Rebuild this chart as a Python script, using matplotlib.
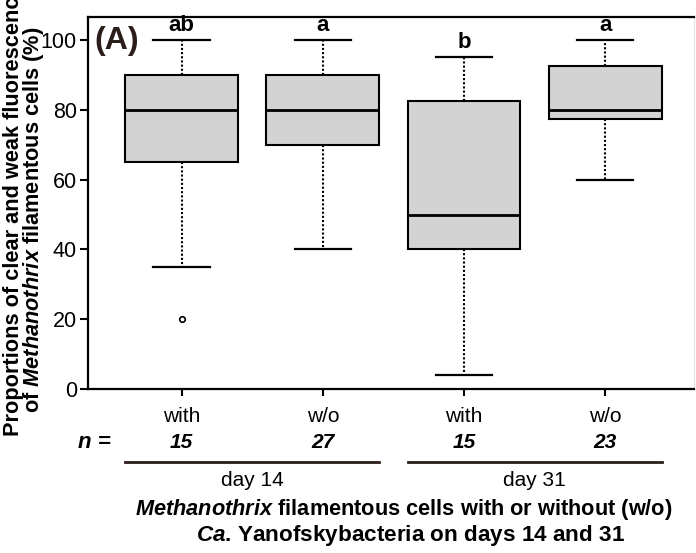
import matplotlib
matplotlib.use("Agg")
import matplotlib.pyplot as plt
from matplotlib.transforms import blended_transform_factory
from matplotlib.lines import Line2D

plt.rcParams['font.family'] = ['Liberation Sans', 'DejaVu Sans']
plt.rcParams['mathtext.fontset'] = 'custom'
plt.rcParams['mathtext.it'] = 'Liberation Sans:italic:bold'
plt.rcParams['mathtext.rm'] = 'Liberation Sans:bold'
plt.rcParams['mathtext.bf'] = 'Liberation Sans:bold'

# ---- data ----
groups = ["with", "w/o", "with", "w/o"]
days = ["day 14", "day 31"]
n_values = ["15", "27", "15", "23"]
letters = ["ab", "a", "b", "a"]
whis_low = [35, 40, 4, 60]
q1 = [65, 70, 40, 77.5]
medians = [80, 80, 50, 80]
q3 = [90, 90, 82.5, 92.5]
whis_high = [100, 100, 95, 100]
outliers = [[20], [], [], []]

W, H = 696, 553
fig = plt.figure(figsize=(W / 100, H / 100), dpi=100)
ax = fig.add_axes([88 / W, (H - 389) / H, (694 - 88) / W, (389 - 17) / H])

stats = []
for i in range(4):
    stats.append(dict(med=medians[i], q1=q1[i], q3=q3[i],
                      whislo=whis_low[i], whishi=whis_high[i],
                      fliers=outliers[i]))
positions = [1, 2, 3, 4]
ax.bxp(stats, positions=positions, widths=0.8, capwidths=0.4,
       patch_artist=True, showfliers=True,
       boxprops=dict(facecolor='#d3d3d3', edgecolor='black', linewidth=1.5),
       medianprops=dict(color='black', linewidth=2),
       whiskerprops=dict(color='black', linewidth=1.5, linestyle=(0, (1.0, 1.0))),
       capprops=dict(color='black', linewidth=1.6),
       flierprops=dict(marker='o', markersize=4, markerfacecolor='white',
                       markeredgecolor='black', markeredgewidth=1.2))

ax.set_xlim(0.336, 4.63)
ax.set_ylim(0, 106.6)
ax.set_yticks([0, 20, 40, 60, 80, 100])
ax.tick_params(axis='y', labelsize=15.5, length=6, width=1.5, pad=2)
ax.set_xticks(positions)
ax.set_xticklabels(groups)
ax.tick_params(axis='x', labelsize=15, length=5, width=1.5, pad=8)
for s in ['left', 'bottom', 'top']:
    ax.spines[s].set_linewidth(1.6)
ax.spines['right'].set_color('#e6e6e6')
ax.spines['right'].set_linewidth(1)

# significance letters
for x, t, yh in zip(positions, letters, whis_high):
    ax.text(x, yh + 1.2, t, ha='center', va='bottom', fontsize=16,
            fontweight='bold')

ax.text(0.01, 0.935, "(A)", transform=ax.transAxes, fontsize=23,
        fontweight='bold', color='#2b1d1a', ha='left', va='center')

# n row
tr = blended_transform_factory(ax.transData, fig.transFigure)
for x, n in zip(positions, n_values):
    ax.text(x, (H - 443) / H, n, transform=tr, ha='center', va='center',
            fontsize=15, fontweight='bold', fontstyle='italic')
fig.text(94 / W, (H - 443) / H, "n =", ha='center', va='center',
         fontsize=16, fontweight='bold', fontstyle='italic')

# day brackets
for (x0, x1), d in zip([(0.6, 2.4), (2.6, 4.4)], days):
    ax.add_line(Line2D([x0, x1], [(H - 462) / H] * 2, transform=tr,
                       color='#2b1d1a', linewidth=2, clip_on=False))
    ax.text((x0 + x1) / 2, (H - 480) / H, d, transform=tr, ha='center',
            va='center', fontsize=15)

# x title
fig.text(404 / W, (H - 510) / H,
         r"$\mathit{Methanothrix}$ filamentous cells with or without (w/o)",
         ha='center', va='center', fontsize=15.7, fontweight='bold')
fig.text(411 / W, (H - 535) / H,
         r"$\mathit{Ca}$. Yanofskybacteria on days 14 and 31",
         ha='center', va='center', fontsize=16.2, fontweight='bold')

# y title
fig.text(14 / W, (H - 210) / H, "Proportions of clear and weak fluorescence",
         rotation=90, ha='center', va='center', fontsize=15.7, fontweight='bold')
fig.text(34 / W, (H - 220) / H,
         r"of $\mathit{Methanothrix}$ filamentous cells (%)",
         rotation=90, ha='center', va='center', fontsize=15.7, fontweight='bold')

fig.savefig("out.png", dpi=100)
